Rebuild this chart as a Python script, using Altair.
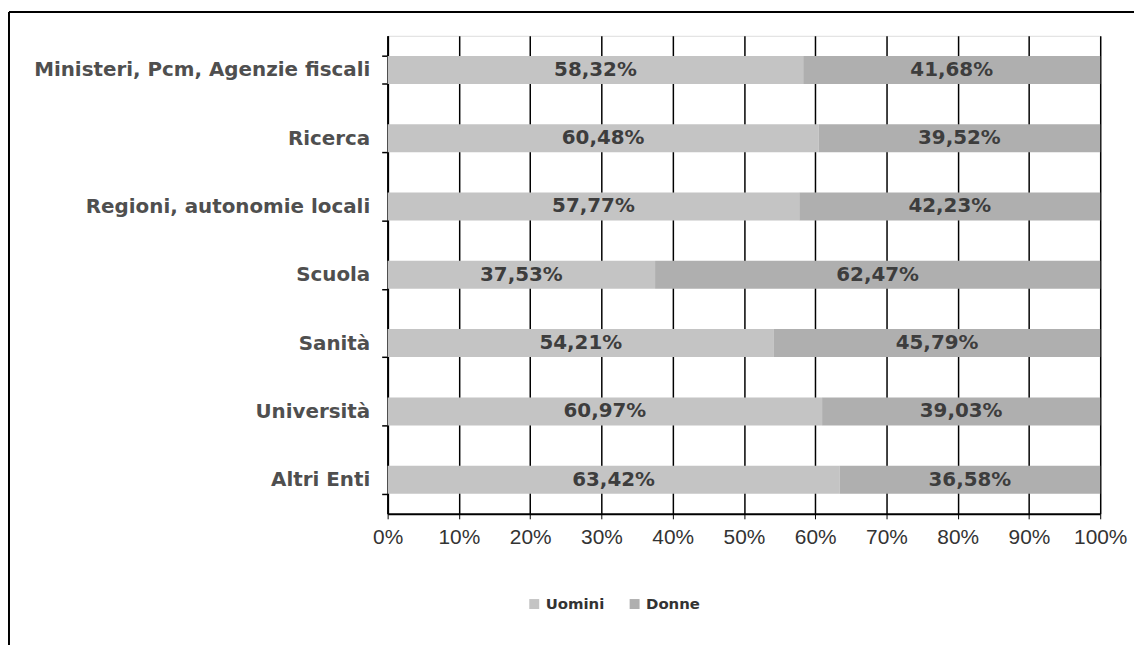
import altair as alt
import pandas as pd

categories = [
    "Ministeri, Pcm, Agenzie fiscali",
    "Ricerca",
    "Regioni, autonomie locali",
    "Scuola",
    "Sanità",
    "Università",
    "Altri Enti",
]
uomini = [58.32, 60.48, 57.77, 37.53, 54.21, 60.97, 63.42]
donne = [41.68, 39.52, 42.23, 62.47, 45.79, 39.03, 36.58]
series = ["Uomini", "Donne"]
colors = ["#c4c4c4", "#afafaf"]
x_ticks = [0, 10, 20, 30, 40, 50, 60, 70, 80, 90, 100]

rows = []
for cat, u, d in zip(categories, uomini, donne):
    start = 0.0
    for k, (s, v) in enumerate(zip(series, [u, d])):
        rows.append({
            "cat": cat, "serie": s, "ord": k, "value": v,
            "start": start, "end": start + v, "mid": start + v / 2,
            "label": f"{v:.2f}".replace(".", ",") + "%",
        })
        start += v
df = pd.DataFrame(rows)

FONT = "DejaVu Sans"

y_enc = alt.Y(
    "cat:N", sort=categories, title=None,
    scale=alt.Scale(paddingInner=0.59, paddingOuter=0.295),
    axis=alt.Axis(
        tickBand="extent", tickSize=6, tickColor="black", tickWidth=1.5,
        domainColor="black", domainWidth=2, labelPadding=12, labelLimit=0,
        labelFont=FONT, labelFontWeight="bold", labelFontSize=20,
        labelColor="#4f4f4f", grid=False,
    ),
)
x_scale = alt.Scale(domain=[0, 100], nice=False)
x_axis = alt.Axis(
    values=x_ticks, labelExpr="datum.value + '%'", grid=True,
    gridColor="black", gridWidth=1.5, gridOpacity=1,
    tickSize=5, tickColor="black", domainColor="black", domainWidth=2,
    labelFont="Liberation Sans", labelFontSize=21, labelColor="#333333",
    labelPadding=8, title=None, labelFlush=False,
)

frame_src = alt.Chart(pd.DataFrame({"a": [0]}))
frame_left = frame_src.mark_rule(color="black", strokeWidth=2).encode(
    x=alt.value(-381), y=alt.value(-24), y2=alt.value(700)
)
frame_top = frame_src.mark_rule(color="black", strokeWidth=2).encode(
    x=alt.value(-381), x2=alt.value(800), y=alt.value(-24)
)

bars = alt.Chart(df).mark_bar().encode(
    x=alt.X("start:Q", scale=x_scale, axis=x_axis),
    x2="end:Q",
    y=y_enc,
    color=alt.Color(
        "serie:N", scale=alt.Scale(domain=series, range=colors),
        sort=series,
        legend=alt.Legend(
            title=None, orient="none", legendX=140, legendY=564,
            direction="horizontal", symbolType="square", symbolSize=100,
            symbolStrokeWidth=0, labelFont=FONT, labelFontWeight="bold",
            labelFontSize=15, labelColor="#333333", columnPadding=22,
        ),
    ),
    order=alt.Order("ord:Q"),
)

texts = alt.Chart(df).mark_text(
    font=FONT, fontWeight="bold", fontSize=20, color="#3d3d3d", baseline="middle"
).encode(
    x=alt.X("mid:Q", scale=x_scale),
    y=alt.Y("cat:N", sort=categories),
    text="label:N",
)

chart = alt.layer(frame_left, frame_top, bars, texts).properties(
    width=717, height=481,
    autosize=alt.AutoSizeParams(type="none"),
    padding={"left": 382, "top": 26, "right": 34, "bottom": 130},
).configure_view(stroke="black", strokeWidth=2).configure(background="white")

chart.save("out.html", embed_options={"renderer": "svg", "actions": False})
